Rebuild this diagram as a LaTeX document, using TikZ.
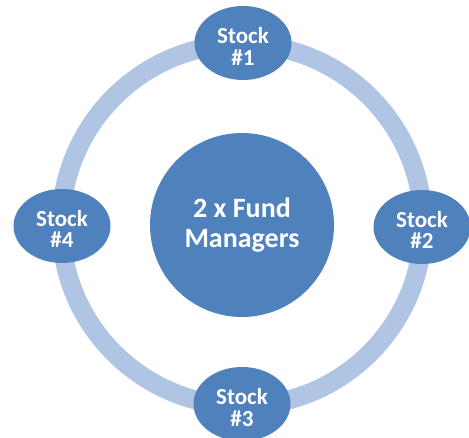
\documentclass[tikz,border=0pt]{standalone}
\usepackage{fontspec}
\setmainfont{Carlito}
\usetikzlibrary{shapes.geometric}
\definecolor{fundblue}{RGB}{79,129,189}
\definecolor{ringblue}{RGB}{176,196,228}

\begin{document}
\begin{tikzpicture}[x=1pt, y=1pt,
  stock/.style = {ellipse, fill=fundblue, text=white, minimum width=97pt,
    minimum height=74pt, inner sep=0pt, align=center,
    font=\bfseries\fontsize{23}{22}\selectfont},
  hub/.style = {circle, fill=fundblue, text=white, minimum size=184pt,
    inner sep=0pt, align=center, font=\bfseries\fontsize{28}{30}\selectfont}
]
\useasboundingbox (0,0) rectangle (469,437);
\node[hub] (hub) at (242,212) {2 x Fund\\Managers};
% the ring that links the four stocks
\draw[ringblue, line width=19pt] (hub.center) circle (181);
\node[stock] (s1) at (243,394) {\rule{0pt}{24pt}Stock\\\#1};
\node[stock] (s2) at (422,210) {\rule{0pt}{22pt}Stock\\\#2};
\node[stock] (s3) at (242,33) {\rule{0pt}{24pt}Stock\\\#3};
\node[stock] (s4) at (62,211) {\rule{0pt}{22pt}Stock\\\#4};
\end{tikzpicture}
\end{document}
